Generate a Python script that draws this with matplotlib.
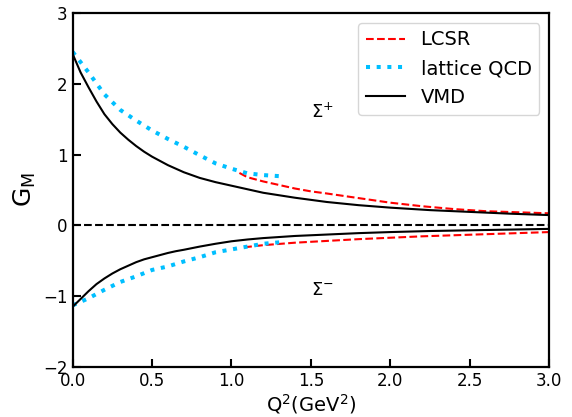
import numpy as np
import matplotlib
matplotlib.use('Agg')
import matplotlib.pyplot as plt

# VMD curves (Sigma+ and Sigma-)
q_vmd = [0.0, 0.05, 0.1, 0.15, 0.2, 0.25, 0.3, 0.35, 0.4, 0.45, 0.5, 0.55, 0.6, 0.65, 0.7, 0.8, 0.9, 1.0,
         1.1, 1.2, 1.3, 1.4, 1.6, 1.8, 2.0, 2.25, 2.5, 2.75, 3.0]
vmd_plus = [2.42, 2.16, 1.95, 1.75, 1.57, 1.43, 1.31, 1.21, 1.12, 1.04, 0.97, 0.91, 0.85, 0.80, 0.75, 0.67, 0.61, 0.56,
            0.51, 0.46, 0.425, 0.39, 0.33, 0.285, 0.25, 0.215, 0.19, 0.165, 0.145]
vmd_minus = [-1.15, -1.04, -0.93, -0.83, -0.75, -0.68, -0.62, -0.57, -0.52, -0.48, -0.45, -0.42, -0.39, -0.365, -0.345,
             -0.30, -0.26, -0.225, -0.20, -0.18, -0.165, -0.15, -0.13, -0.11, -0.095, -0.08, -0.07, -0.06, -0.05]

# lattice QCD
q_lat = [0.0, 0.1, 0.2, 0.3, 0.4, 0.5, 0.6, 0.7, 0.8, 0.9, 1.0, 1.1, 1.2, 1.3]
lat_plus = [2.45, 2.16, 1.85, 1.63, 1.48, 1.34, 1.22, 1.11, 0.99, 0.875, 0.80, 0.735, 0.71, 0.695]
lat_minus = [-1.13, -1.03, -0.91, -0.80, -0.72, -0.63, -0.58, -0.51, -0.45, -0.38, -0.34, -0.30, -0.26, -0.24]

# LCSR
q_lcsr_p = [1.05, 1.1, 1.2, 1.3, 1.4, 1.5, 1.6, 1.8, 2.0, 2.2, 2.4, 2.6, 2.8, 3.0]
lcsr_plus = [0.74, 0.68, 0.62, 0.57, 0.52, 0.48, 0.45, 0.385, 0.32, 0.27, 0.23, 0.20, 0.185, 0.17]
q_lcsr_m = [1.08, 1.2, 1.4, 1.6, 1.8, 2.0, 2.2, 2.4, 2.6, 2.8, 3.0]
lcsr_minus = [-0.31, -0.28, -0.245, -0.22, -0.195, -0.175, -0.155, -0.14, -0.125, -0.11, -0.095]

fig = plt.figure(figsize=(5.72, 4.17), dpi=100)
ax = fig.add_axes([0.127, 0.12, 0.833, 0.849])

ax.plot(q_lcsr_p, lcsr_plus, color='red', ls='--', lw=1.5, label='LCSR')
ax.plot(q_lcsr_m, lcsr_minus, color='red', ls='--', lw=1.5)
ax.plot(q_lat, lat_plus, color='deepskyblue', ls=':', lw=2.9, label='lattice QCD')
ax.plot(q_lat, lat_minus, color='deepskyblue', ls=':', lw=2.9)
ax.plot(q_vmd, vmd_plus, color='black', lw=1.5, label='VMD')
ax.plot(q_vmd, vmd_minus, color='black', lw=1.5)
ax.axhline(0, color='black', ls='--', lw=1.5)

ax.text(1.5, 1.6, r'$\Sigma^{+}$', fontsize=13, va='center')
ax.text(1.5, -0.92, r'$\Sigma^{-}$', fontsize=13, va='center')

ax.set_xlim(0, 3)
ax.set_ylim(-2, 3)
ax.set_xticks([0, 0.5, 1.0, 1.5, 2.0, 2.5, 3.0])
ax.set_yticks([-2, -1, 0, 1, 2, 3])
ax.tick_params(direction='in', length=6, width=1.5, labelsize=12)
for s in ax.spines.values():
    s.set_linewidth(1.6)

ax.set_xlabel(r'Q$^2$(GeV$^2$)', fontsize=14, labelpad=2)
ax.set_ylabel(r'G$_\mathrm{M}$', fontsize=18)
ax.legend(loc='upper right', fontsize=14)

fig.savefig('out.png', dpi=100)
